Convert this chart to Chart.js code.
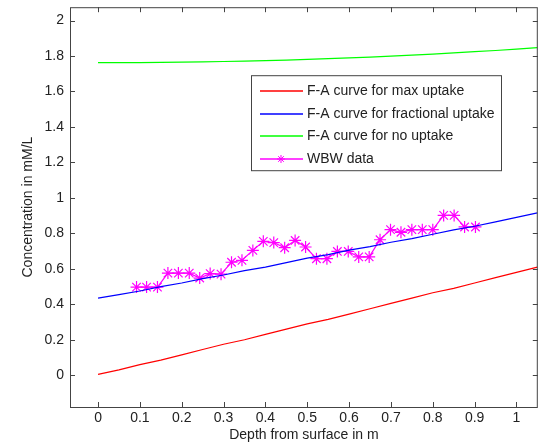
<!DOCTYPE html>
<html>
<head>
<meta charset="utf-8">
<script src="https://cdn.jsdelivr.net/npm/chart.js@4/dist/chart.umd.min.js"></script>
<style>
  html, body { margin: 0; padding: 0; background: #fff; }
</style>
</head>
<body>
<canvas id="faChart" width="545" height="445"></canvas>
<script>
// depth grid for the model curves (m)
var curveDepth = [0, 0.05, 0.1, 0.15, 0.2, 0.25, 0.3, 0.35, 0.4, 0.45, 0.5,
                  0.55, 0.6, 0.65, 0.7, 0.75, 0.8, 0.85, 0.9, 0.95, 1.0, 1.05];

var maxUptake = [0.005, 0.03, 0.06, 0.085, 0.115, 0.145, 0.175, 0.2, 0.23, 0.26, 0.29,
                 0.315, 0.345, 0.375, 0.405, 0.435, 0.465, 0.49, 0.52, 0.55, 0.58, 0.61];

var fracUptake = [0.435, 0.455, 0.475, 0.5, 0.52, 0.545, 0.565, 0.59, 0.61, 0.635, 0.66,
                  0.68, 0.705, 0.725, 0.75, 0.77, 0.795, 0.82, 0.84, 0.865, 0.89, 0.915];

var noUptake = [1.762, 1.762, 1.763, 1.764, 1.765, 1.767, 1.769, 1.771, 1.774, 1.777, 1.781,
                1.785, 1.789, 1.794, 1.799, 1.805, 1.811, 1.817, 1.824, 1.831, 1.839, 1.847];

// measured WBW data
var wbwDepth = [0.092, 0.116, 0.142, 0.167, 0.192, 0.218, 0.243, 0.268, 0.294, 0.319, 0.344,
                0.370, 0.395, 0.420, 0.446, 0.471, 0.496, 0.522, 0.547, 0.572, 0.598, 0.623,
                0.648, 0.674, 0.699, 0.724, 0.750, 0.775, 0.800, 0.826, 0.851, 0.876, 0.902];

var wbwConc = [0.497, 0.497, 0.497, 0.576, 0.576, 0.576, 0.548, 0.573, 0.570, 0.637, 0.648,
               0.704, 0.755, 0.748, 0.719, 0.760, 0.723, 0.657, 0.657, 0.698, 0.698, 0.667,
               0.667, 0.764, 0.821, 0.806, 0.821, 0.821, 0.821, 0.901, 0.901, 0.836, 0.836];

var xTicks = [0, 0.1, 0.2, 0.3, 0.4, 0.5, 0.6, 0.7, 0.8, 0.9, 1];
var yTicks = [0, 0.2, 0.4, 0.6, 0.8, 1, 1.2, 1.4, 1.6, 1.8, 2];

function pts(xs, ys) {
    return xs.map(function (x, i) { return { x: x, y: ys[i] }; });
}

var FONT = "'Liberation Sans', Arial, Helvetica, sans-serif";
var AXIS = '#444';

// matlab style box with inward ticks + legend inside the axes
var matlabBox = {
    id: 'matlabBox',
    afterDraw: function (chart) {
        var ctx = chart.ctx, a = chart.chartArea;
        var xs = chart.scales.x, ys = chart.scales.y;
        ctx.save();
        ctx.strokeStyle = AXIS;
        ctx.lineWidth = 1;
        ctx.strokeRect(a.left + 0.5, a.top + 0.5, a.right - a.left - 1, a.bottom - a.top);
        ctx.beginPath();
        xTicks.forEach(function (v) {
            var p = Math.round(xs.getPixelForValue(v)) + 0.5;
            ctx.moveTo(p, a.bottom); ctx.lineTo(p, a.bottom - 5);
            ctx.moveTo(p, a.top); ctx.lineTo(p, a.top + 5);
        });
        yTicks.forEach(function (v) {
            var p = Math.round(ys.getPixelForValue(v)) + 0.5;
            ctx.moveTo(a.left, p); ctx.lineTo(a.left + 5, p);
            ctx.moveTo(a.right, p); ctx.lineTo(a.right - 5, p);
        });
        ctx.stroke();

        // legend
        var lx = a.left + 181, ly = a.top + 68, lw = 250, lh = 95;
        ctx.fillStyle = '#fff';
        ctx.fillRect(lx, ly, lw, lh);
        ctx.strokeStyle = AXIS;
        ctx.strokeRect(lx + 0.5, ly + 0.5, lw, lh);
        ctx.font = '14px ' + FONT;
        ctx.textBaseline = 'middle';
        ctx.textAlign = 'left';
        chart.data.datasets.forEach(function (ds, i) {
            var cy = Math.round(ly + 16 + i * 22.5);
            ctx.strokeStyle = ds.borderColor;
            ctx.lineWidth = 1.3;
            ctx.beginPath();
            ctx.moveTo(lx + 9, cy); ctx.lineTo(lx + 52, cy);
            ctx.stroke();
            if (ds.pointRadius > 0) {
                ctx.lineWidth = 1;
                Chart.helpers.drawPoint(ctx, { pointStyle: 'star', radius: 4, borderWidth: 1 },
                    lx + 30, cy);
            }
            ctx.fillStyle = '#222';
            ctx.fillText(ds.label, lx + 56, cy);
        });
        ctx.restore();
    }
};

var ctx = document.getElementById('faChart');
var myChart = new Chart(ctx, {
    type: 'scatter',
    data: {
        datasets: [
            {
                data: pts(curveDepth, maxUptake),
                label: 'F-A curve for max uptake',
                borderColor: '#ff0000',
                showLine: true,
                pointRadius: 0,
                borderWidth: 1.2
            },
            {
                data: pts(curveDepth, fracUptake),
                label: 'F-A curve for fractional uptake',
                borderColor: '#0000ff',
                showLine: true,
                pointRadius: 0,
                borderWidth: 1.2
            },
            {
                data: pts(curveDepth, noUptake),
                label: 'F-A curve for no uptake',
                borderColor: '#00ff00',
                showLine: true,
                pointRadius: 0,
                borderWidth: 1.2
            },
            {
                data: pts(wbwDepth, wbwConc),
                label: 'WBW data',
                borderColor: '#ff00ff',
                backgroundColor: '#ff00ff',
                showLine: true,
                pointStyle: 'star',
                pointRadius: 6,
                pointBorderWidth: 1.2,
                borderWidth: 1.2
            }
        ]
    },
    plugins: [matlabBox],
    options: {
        responsive: false,
        animation: false,
        layout: { padding: { top: 7, right: 4, left: 0, bottom: 0 } },
        plugins: {
            legend: { display: false },
            tooltip: { enabled: false }
        },
        scales: {
            x: {
                type: 'linear',
                min: -0.067,
                max: 1.051,
                afterBuildTicks: function (s) { s.ticks = xTicks.map(function (v) { return { value: v }; }); },
                afterFit: function (s) { s.height = 38; s.paddingLeft = 0; s.paddingRight = 0; },
                grid: { display: false, drawTicks: false },
                border: { display: false },
                ticks: {
                    padding: 3,
                    autoSkip: false,
                    color: '#222',
                    font: { family: FONT, size: 14 },
                    maxRotation: 0,
                    callback: function (v) { return String(v); }
                },
                title: {
                    display: true,
                    text: 'Depth from surface in m',
                    color: '#222',
                    font: { family: FONT, size: 14 },
                    padding: { top: 0, bottom: 1 }
                }
            },
            y: {
                type: 'linear',
                min: -0.179,
                max: 2.075,
                afterBuildTicks: function (s) { s.ticks = yTicks.map(function (v) { return { value: v }; }); },
                afterFit: function (s) { s.width = 70; s.paddingTop = 0; s.paddingBottom = 0; },
                grid: { display: false, drawTicks: false },
                border: { display: false },
                ticks: {
                    padding: 6,
                    autoSkip: false,
                    color: '#222',
                    font: { family: FONT, size: 14 },
                    callback: function (v) { return String(v); }
                },
                title: {
                    display: true,
                    text: 'Concentration in mM/L',
                    color: '#222',
                    font: { family: FONT, size: 14 },
                    padding: { top: 20, bottom: 0 }
                }
            }
        }
    }
});
</script>
</body>
</html>
